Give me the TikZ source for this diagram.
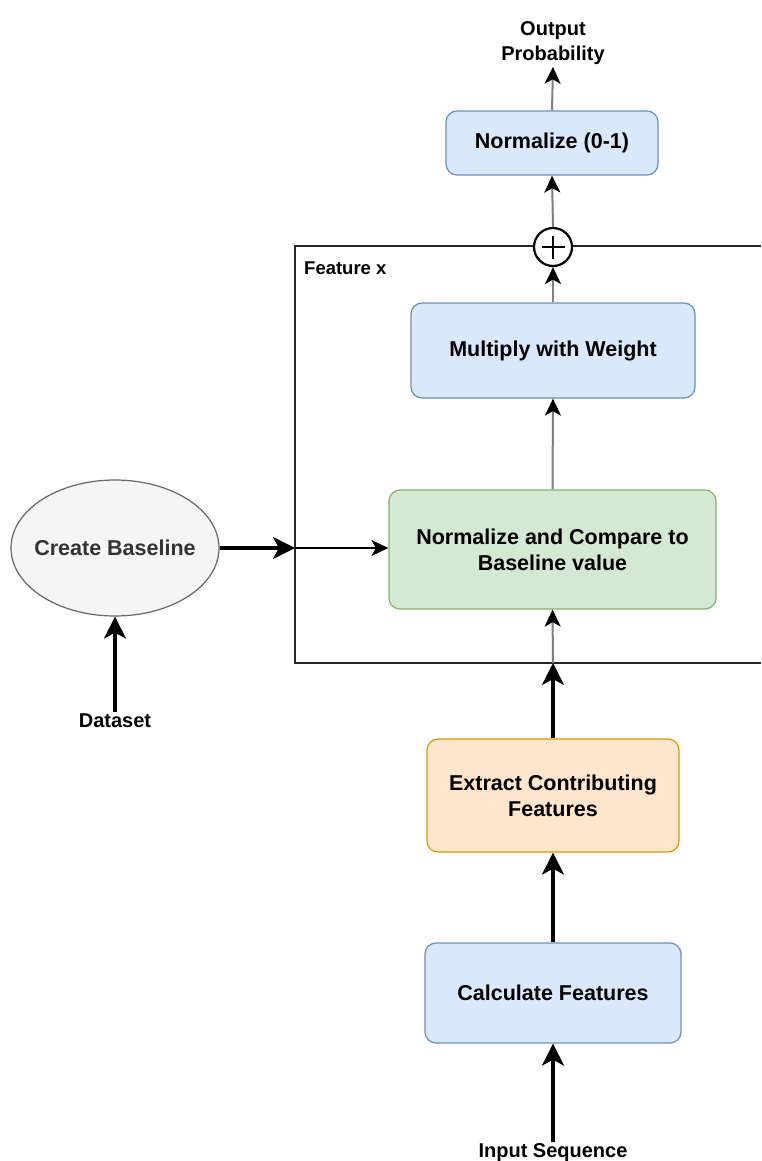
\documentclass[tikz,border=0pt]{standalone}
\usepackage{fontspec}
\setmainfont{Liberation Sans}
\usetikzlibrary{arrows.meta,shapes.geometric}

\definecolor{bluefill}{HTML}{DAE8FC}
\definecolor{bluestroke}{HTML}{6C8EBF}
\definecolor{greenfill}{HTML}{D5E8D4}
\definecolor{greenstroke}{HTML}{82B366}
\definecolor{orangefill}{HTML}{FFE6CC}
\definecolor{orangestroke}{HTML}{D79B00}
\definecolor{grayfill}{HTML}{F5F5F5}
\definecolor{graystroke}{HTML}{666666}
\definecolor{graytext}{HTML}{333333}
\definecolor{linkgray}{HTML}{7F7F7F}

\tikzset{
  box/.style={draw, rounded corners=11pt, line width=1.2pt, align=center,
    font=\fontsize{21.5}{26}\selectfont\bfseries, inner sep=0pt},
  bluebox/.style={box, fill=bluefill, draw=bluestroke},
  greenbox/.style={box, fill=greenfill, draw=greenstroke},
  orangebox/.style={box, fill=orangefill, draw=orangestroke},
  label/.style={align=center, font=\fontsize{20}{25}\selectfont\bfseries, inner sep=2pt},
  bigarrow/.style={line width=3.2pt, -{Stealth[length=22pt,width=22pt,inset=6pt]}},
  thinarrow/.style={line width=1.4pt, -{Stealth[length=17pt,width=16pt,inset=4.5pt]}},
  grayarrow/.style={draw=linkgray, line width=2pt,
    -{Stealth[length=17pt,width=16pt,inset=4.5pt,color=black,fill=black]}},
  frame/.style={line width=1.6pt, draw=black!85}
}

\begin{document}
\begin{tikzpicture}[x=1pt,y=-1pt]
  \useasboundingbox (0,0) rectangle (761,1161);
  \fill[white] (0,0) rectangle (761,1161);

  % feature frame, open on the right
  \draw[frame] (761,246) -- (295,246) -- (295,663) -- (761,663);
  \node[anchor=west, font=\fontsize{18.5}{22}\selectfont\bfseries, inner sep=0pt]
    (ftitle) at (304,268) {Feature x};
  \coordinate (fbottom) at (553,663);
  \coordinate (fleft) at (295,548);

  % processing boxes
  \node[bluebox, minimum width=212pt, minimum height=64pt] (norm) at (552,143) {Normalize (0-1)};
  \node[bluebox, minimum width=284pt, minimum height=95pt] (mult) at (553,350.5) {Multiply with Weight};
  \node[greenbox, minimum width=327pt, minimum height=119pt] (cmp) at (552.5,549.5)
    {Normalize and Compare to\\Baseline value};
  \node[orangebox, minimum width=252pt, minimum height=113pt] (extract) at (553,795.5)
    {Extract Contributing\\Features};
  \node[bluebox, minimum width=256pt, minimum height=100pt] (calc) at (553,993) {Calculate Features};

  % baseline ellipse, text set on top of it
  \node[ellipse, draw=graystroke, fill=grayfill, line width=1.2pt,
    minimum width=208pt, minimum height=136pt, inner sep=0pt] (base) at (115,548) {};
  \node[font=\fontsize{21.5}{26}\selectfont\bfseries, text=graytext, inner sep=0pt]
    (basetxt) at (base.center) {Create Baseline};

  % summation
  \node[circle, draw, fill=white, line width=2.2pt, minimum size=38pt, inner sep=0pt] (sum) at (553,247) {};
  \draw[line width=2.5pt] (sum.center) ++(-11.5,0) -- ++(23,0);
  \draw[line width=2.5pt] (sum.center) ++(0,-11.5) -- ++(0,23);

  % free labels
  \node[label] (out) at (553,43) {Output\\Probability};
  \node[label] (data) at (115,721) {Dataset};
  \node[label] (inp) at (553,1153) {Input Sequence};

  % connectors
  \draw[bigarrow] (inp.north) -- (calc.south);
  \draw[bigarrow] (calc.north) -- (extract.south);
  \draw[bigarrow] (extract.north) -- (fbottom);
  \draw[grayarrow] (fbottom) -- (cmp.south);
  \draw[grayarrow] (cmp.north) -- (mult.south);
  \draw[grayarrow] (mult.north) -- (sum.south);
  \draw[grayarrow] (sum.north) -- (norm.south);
  \draw[grayarrow] (norm.north) -- (out.south);
  \draw[bigarrow] (data.north) -- (base.south);
  \draw[bigarrow] (base.east) -- (fleft);
  \draw[thinarrow] (fleft) -- (fleft -| cmp.west);
\end{tikzpicture}
\end{document}
